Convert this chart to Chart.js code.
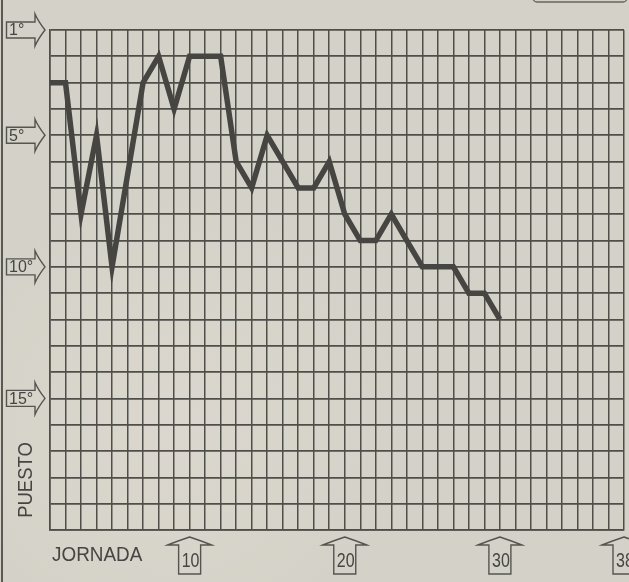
<!DOCTYPE html>
<html>
<head>
<meta charset="utf-8">
<script src="https://cdn.jsdelivr.net/npm/chart.js@4/dist/chart.umd.min.js"></script>
<style>
  html, body { margin: 0; padding: 0; background: #d4d2c8; }
  #wrap { width: 629px; height: 582px; position: relative; }
</style>
</head>
<body>
<div id="wrap"><canvas id="c" width="629" height="582"></canvas></div>
<script>
// Jornada (match day) 1..30, league position each week
const jornadas = [1, 2, 3, 4, 5, 6, 7, 8, 9, 10, 11, 12, 13, 14, 15, 16, 17, 18, 19, 20, 21, 22, 23, 24, 25, 26, 27, 28, 29, 30];
const puesto = [3, 3, 8, 5, 10, null, 3, 2, 4, 2, 2, 2, 6, 7, 5, 6, 7, 7, 6, 8, 9, 9, 8, 9, 10, 10, 10, 11, 11, 12];

const yTickValues = [1, 5, 10, 15];
const yTickLabels = ['1°', '5°', '10°', '15°'];
const xTickValues = [10, 20, 30, 38];
const xTickLabels = ['10', '20', '30', '38'];

const INK = '#464541';
const GRID = '#4f4e49';
const PAPER = '#d4d2c8';

function condensedText(ctx, text, x, y, sx) {
    ctx.save();
    ctx.translate(x, y);
    ctx.scale(sx, 1);
    ctx.fillText(text, 0, 0);
    ctx.restore();
}

// paper background plus the stray frame bits of the scan
const paperPlugin = {
    id: 'paper',
    beforeDraw(chart) {
        const { ctx, width, height } = chart;
        ctx.save();
        ctx.fillStyle = PAPER;
        ctx.fillRect(0, 0, width, height);
        // faint ghost of the photo printed on the other side
        const g = ctx.createRadialGradient(170, 420, 10, 170, 420, 230);
        g.addColorStop(0, 'rgba(226, 220, 212, 0.5)');
        g.addColorStop(1, 'rgba(226, 220, 212, 0)');
        ctx.fillStyle = g;
        ctx.fillRect(0, 0, width, height);
        // left page rule
        ctx.fillStyle = '#5a5954';
        ctx.fillRect(1, 0, 2, height);
        // bottom of a box at the top right
        ctx.strokeStyle = '#67665f';
        ctx.lineWidth = 1.3;
        ctx.beginPath();
        ctx.roundRect(533, -20, 94, 22, 4);
        ctx.stroke();
        ctx.restore();
    }
};

// arrow-shaped tick labels on both axes
const arrowLabels = {
    id: 'arrowLabels',
    afterDraw(chart) {
        const { ctx, chartArea, scales } = chart;
        ctx.save();
        ctx.strokeStyle = '#55544f';
        ctx.lineWidth = 1.4;
        ctx.fillStyle = INK;
        ctx.textBaseline = 'middle';

        // left: arrows pointing right at the position lines
        yTickValues.forEach((v, i) => {
            const y = scales.y.getPixelForValue(v);
            const tip = chartArea.left - 5;
            const bodyR = tip - 10;
            const left = 6.5;
            ctx.beginPath();
            ctx.moveTo(left, y - 8);
            ctx.lineTo(bodyR, y - 8);
            ctx.lineTo(bodyR, y - 16);
            ctx.quadraticCurveTo(bodyR + 3, y - 9, tip, y);
            ctx.quadraticCurveTo(bodyR + 3, y + 9, bodyR, y + 16);
            ctx.lineTo(bodyR, y + 8);
            ctx.lineTo(left, y + 8);
            ctx.closePath();
            ctx.stroke();
            ctx.font = '16px "Liberation Sans", Arial, sans-serif';
            ctx.textAlign = 'left';
            ctx.fillText(yTickLabels[i], left + 2.5, y + 1);
        });

        // bottom: arrows pointing up at the jornada lines
        xTickValues.forEach((v, i) => {
            const x = scales.x.getPixelForValue(v);
            const tipY = chartArea.bottom + 7;
            const baseY = tipY + 8;
            const bottom = tipY + 37;
            ctx.beginPath();
            ctx.moveTo(x, tipY);
            ctx.quadraticCurveTo(x + 12, tipY + 4, x + 22, baseY);
            ctx.lineTo(x + 11, baseY);
            ctx.lineTo(x + 11, bottom);
            ctx.lineTo(x - 11, bottom);
            ctx.lineTo(x - 11, baseY);
            ctx.lineTo(x - 22, baseY);
            ctx.quadraticCurveTo(x - 12, tipY + 4, x, tipY);
            ctx.closePath();
            ctx.stroke();
            ctx.font = '20px "Liberation Sans", Arial, sans-serif';
            ctx.textAlign = 'center';
            condensedText(ctx, xTickLabels[i], x + 1, baseY + 16, 0.8);
        });

        // axis titles
        ctx.font = '21px "Liberation Sans", Arial, sans-serif';
        ctx.textAlign = 'left';
        condensedText(ctx, 'JORNADA', 52, 555, 0.9);
        ctx.save();
        ctx.translate(26, 480);
        ctx.rotate(-Math.PI / 2);
        ctx.textAlign = 'center';
        condensedText(ctx, 'PUESTO', 0, 0, 0.88);
        ctx.restore();

        ctx.restore();
    }
};

new Chart(document.getElementById('c'), {
    type: 'line',
    plugins: [paperPlugin, arrowLabels],
    data: {
        labels: jornadas,
        datasets: [{
            data: jornadas.map((j, i) => ({ x: j, y: puesto[i] })),
            borderColor: INK,
            borderWidth: 5.5,
            borderJoinStyle: 'miter',
            borderCapStyle: 'butt',
            pointRadius: 0,
            tension: 0,
            spanGaps: true,
            fill: false
        }]
    },
    options: {
        responsive: false,
        animation: false,
        layout: { padding: { left: 50, top: 30, right: 5, bottom: 52 } },
        plugins: {
            legend: { display: false },
            tooltip: { enabled: false }
        },
        scales: {
            x: {
                type: 'linear',
                min: 1,
                max: 38,
                grid: { color: GRID, lineWidth: 1.5, drawTicks: false },
                border: { display: true, color: GRID, width: 1.6 },
                ticks: { display: false, stepSize: 1 }
            },
            y: {
                type: 'linear',
                reverse: true,
                min: 1,
                max: 20,
                grid: { color: GRID, lineWidth: 1.7, drawTicks: false },
                border: { display: true, color: GRID, width: 1.6 },
                ticks: { display: false, stepSize: 1 }
            }
        }
    }
});
</script>
</body>
</html>
